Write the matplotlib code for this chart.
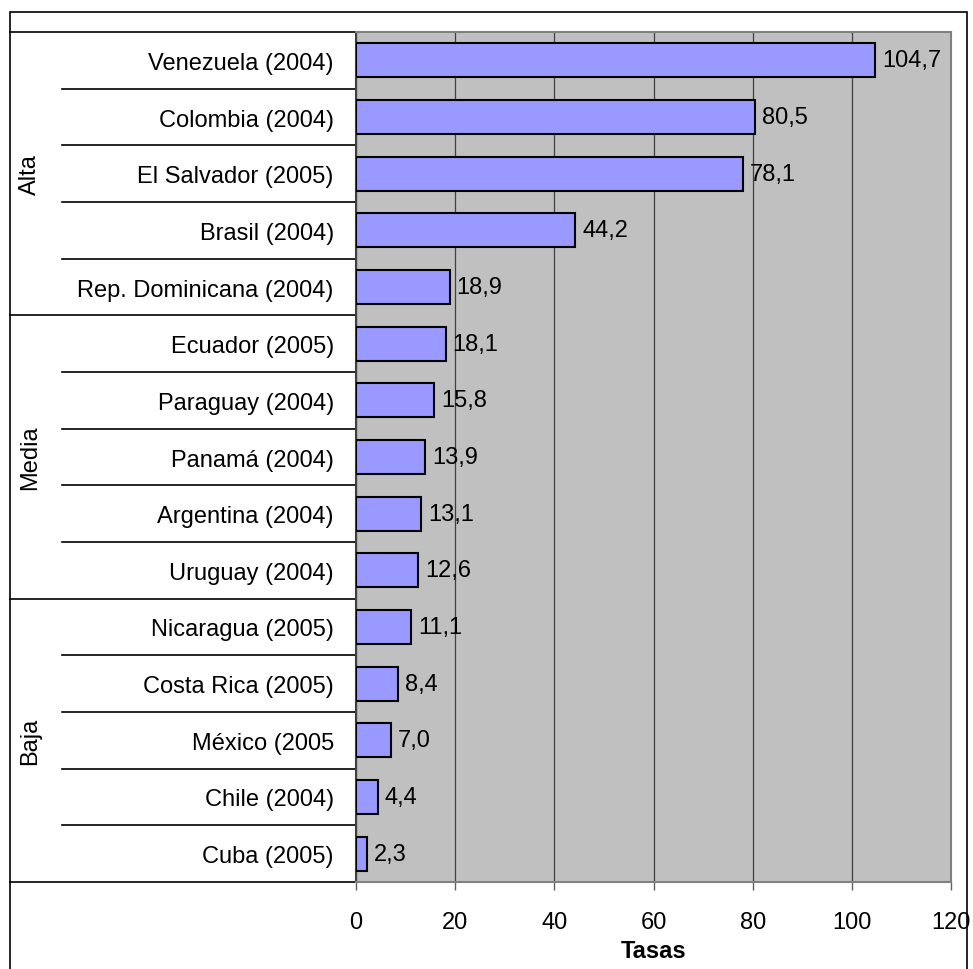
import matplotlib
matplotlib.use("Agg")
import matplotlib.pyplot as plt
import matplotlib.transforms as mtransforms
from matplotlib.patches import Rectangle
from matplotlib.lines import Line2D

plt.rcParams['font.family'] = ['Liberation Sans', 'DejaVu Sans']

# Data: homicide rates by country (year), grouped by level
countries = [
    "Venezuela (2004)", "Colombia (2004)", "El Salvador (2005)", "Brasil (2004)",
    "Rep. Dominicana (2004)", "Ecuador (2005)", "Paraguay (2004)", "Panamá (2004)",
    "Argentina (2004)", "Uruguay (2004)", "Nicaragua (2005)", "Costa Rica (2005)",
    "México (2005", "Chile (2004)", "Cuba (2005)",
]
rates = [104.7, 80.5, 78.1, 44.2, 18.9, 18.1, 15.8, 13.9, 13.1, 12.6, 11.1, 8.4, 7.0, 4.4, 2.3]
groups = ["Alta", "Media", "Baja"]
group_sizes = [5, 5, 5]
x_ticks = [0, 20, 40, 60, 80, 100, 120]
x_label = "Tasas"

W, H = 973, 970
fig = plt.figure(figsize=(W / 100, H / 100), dpi=100)

def fx(px):
    return px / W

def fy(py):
    return 1 - py / H

left_px, right_px, top_px, bottom_px = 356, 951, 33, 883
ax = fig.add_axes([fx(left_px), fy(bottom_px), fx(right_px - left_px), (bottom_px - top_px) / H])
ax.set_facecolor("#C0C0C0")

n = len(countries)
ypos = list(range(n))
ax.barh(ypos, rates, height=0.6, color="#9999FF", edgecolor="black", linewidth=1.5, zorder=3)
ax.set_xlim(0, 120)
ax.set_ylim(n - 0.5, -0.5)

ax.set_xticks(x_ticks)
ax.set_xticklabels([str(t) for t in x_ticks], fontsize=17)
ax.tick_params(axis="x", direction="out", length=6, width=1, color="#606060", pad=15)
ax.xaxis.grid(True, color="#404040", linewidth=0.9, zorder=1)
ax.set_axisbelow(True)
ax.set_xlabel(x_label, fontsize=17, fontweight="bold", labelpad=4)

ax.set_yticks(ypos)
ax.set_yticklabels(countries, fontsize=17)
ax.tick_params(axis="y", length=0, pad=16)

for side in ["top", "right", "bottom"]:
    ax.spines[side].set_color("#808080")
    ax.spines[side].set_linewidth(1.5)
ax.spines["left"].set_color("#404040")
ax.spines["left"].set_linewidth(1.5)

# Value labels with comma decimals
for y, v in zip(ypos, rates):
    ax.annotate(f"{v:.1f}".replace(".", ","), xy=(v, y), xytext=(5, 0),
                textcoords="offset points", ha="left", va="center", fontsize=17, zorder=4)

# Category table on the left
blend = mtransforms.blended_transform_factory(fig.transFigure, ax.transData)
table_left = fx(10)
inner_left = fx(62)
axis_x = fx(left_px)

ax.add_line(Line2D([table_left, axis_x], [-0.5, -0.5], transform=blend, color="black",
                   linewidth=1.2, clip_on=False))
start = 0
for g, size in zip(groups, group_sizes):
    end = start + size
    for k in range(start + 1, end):
        ax.add_line(Line2D([inner_left, axis_x], [k - 0.5, k - 0.5], transform=blend,
                           color="black", linewidth=1.2, clip_on=False))
    ax.add_line(Line2D([table_left, axis_x], [end - 0.5, end - 0.5], transform=blend,
                       color="black", linewidth=1.2, clip_on=False))
    ax.text(fx(30), (start + end - 1) / 2, g, transform=blend, rotation=90,
            ha="center", va="center", fontsize=17)
    start = end

# Outer frame
fig.patches.append(Rectangle((fx(10), fy(990)), fx(957), (990 - 12.7) / H,
                             transform=fig.transFigure, fill=False, edgecolor="black",
                             linewidth=1.2))

fig.savefig("out.png", dpi=100)
